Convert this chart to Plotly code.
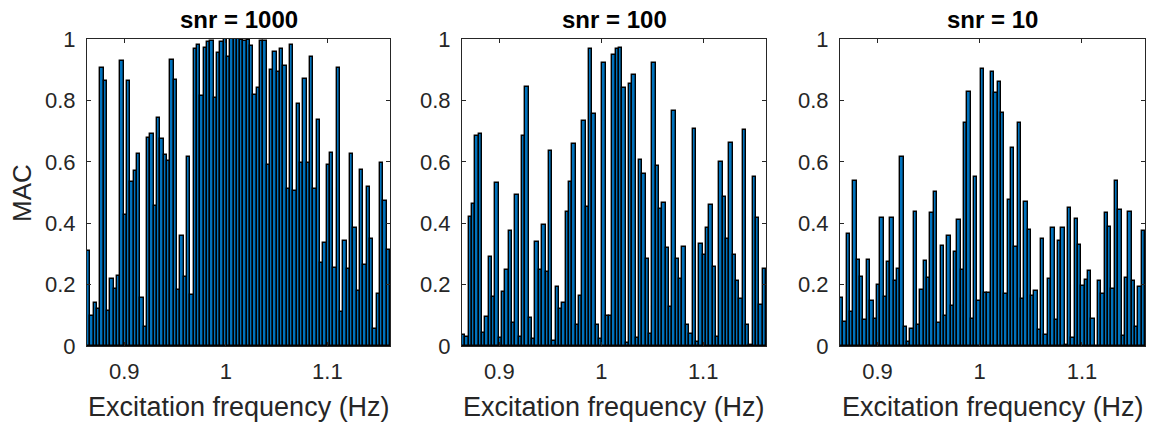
import numpy as np
import plotly.graph_objects as go
from plotly.subplots import make_subplots

# Excitation frequencies (Hz): 91 bars from 0.865 to 1.16
freq_start = 0.865
freq_end = 1.16
n_bars = 91
freqs = list(np.linspace(freq_start, freq_end, n_bars))

titles = ["snr = 1000", "snr = 100", "snr = 10"]
x_label = "Excitation frequency (Hz)"
y_label = "MAC"

mac_snr1000 = [0.31, 0.098, 0.139, 0.12, 0.905, 0.864, 0.115, 0.217, 0.185, 0.229,
               0.929, 0.426, 0.862, 0.535, 0.570, 0.627, 0.157, 0.062, 0.676, 0.689,
               0.457, 0.743, 0.674, 0.623, 0.604, 0.933, 0.867, 0.183, 0.357, 0.226,
               0.617, 0.166, 0.968, 0.98, 0.813, 0.97, 0.99, 0.995, 0.808, 0.954,
               0.99, 1.0, 0.943, 1.0, 1.0, 1.0, 0.998, 0.995, 0.998, 0.978,
               0.816, 0.842, 0.993, 0.993, 0.59, 0.898, 0.958, 0.893, 0.967, 0.911,
               0.511, 0.98, 0.505, 0.789, 0.596, 0.87, 0.596, 0.941, 0.511, 0.737,
               0.27, 0.337, 0.588, 0.628, 0.253, 0.905, 0.112, 0.341, 0.251, 0.625,
               0.385, 0.178, 0.573, 0.263, 0.517, 0.349, 0.055, 0.171, 0.596, 0.471,
               0.313]

mac_snr100 = [0.036, 0.028, 0.42, 0.462, 0.685, 0.691, 0.041, 0.093, 0.291, 0.158,
              0.53, 0.026, 0.177, 0.248, 0.374, 0.076, 0.492, 0.028, 0.685, 0.843,
              0.09, 0.022, 0.339, 0.248, 0.393, 0.241, 0.634, 0.015, 0.193, 0.12,
              0.139, 0.436, 0.535, 0.658, 0.067, 0.163, 0.732, 0.452, 0.968, 0.755,
              0.07, 0.024, 0.922, 0.099, 0.099, 0.949, 0.967, 0.971, 0.841, 0.009,
              0.853, 0.883, 0.026, 0.605, 0.56, 0.283, 0.039, 0.921, 0.586, 0.445,
              0.466, 0.318, 0.126, 0.764, 0.283, 0.217, 0.321, 0.067, 0.039, 0.708,
              0.014, 0.332, 0.298, 0.383, 0.459, 0.257, 0.028, 0.598, 0.485, 0.348,
              0.662, 0.297, 0.211, 0.152, 0.704, 0.067, 0.003, 0.552, 0.416, 0.132,
              0.252]

mac_snr10 = [0.155, 0.078, 0.366, 0.11, 0.536, 0.28, 0.226, 0.085, 0.28, 0.146,
             0.087, 0.199, 0.418, 0.159, 0.275, 0.416, 0.211, 0.25, 0.616, 0.061,
             0.012, 0.054, 0.437, 0.067, 0.184, 0.277, 0.221, 0.432, 0.502, 0.074,
             0.325, 0.098, 0.357, 0.13, 0.305, 0.412, 0.248, 0.726, 0.828, 0.087,
             0.552, 0.147, 0.903, 0.174, 0.174, 0.893, 0.824, 0.86, 0.758, 0.171,
             0.477, 0.646, 0.321, 0.726, 0.153, 0.468, 0.378, 0.162, 0.18, 0.051,
             0.348, 0.036, 0.217, 0.383, 0.085, 0.341, 0.383, 0.003, 0.449, 0.025,
             0.415, 0.329, 0.197, 0.214, 0.245, 0.087, 0.0, 0.212, 0.17, 0.433,
             0.387, 0.186, 0.539, 0.442, 0.032, 0.221, 0.438, 0.211, 0.062, 0.191,
             0.374]

series = [mac_snr1000, mac_snr100, mac_snr10]

x_tickvals = [0.9, 1.0, 1.1]
x_ticktext = ["0.9", "1", "1.1"]
y_tickvals = [0, 0.2, 0.4, 0.6, 0.8, 1.0]
y_ticktext = ["0", "0.2", "0.4", "0.6", "0.8", "1"]

W, H = 1150, 424
panels_px = [(87, 390), (462, 766), (840, 1145)]
top_px, bot_px = 39, 346

fig = make_subplots(rows=1, cols=3)
step = (freq_end - freq_start) / (n_bars - 1)
xr = [freq_start - step / 2, freq_end + step / 2]

FONT = "Liberation Sans, Arial, sans-serif"
INK = "#262626"

for i, vals in enumerate(series):
    fig.add_trace(go.Bar(x=freqs, y=vals, width=step,
                         marker=dict(color="#0072BD", line=dict(color="black", width=1.4)),
                         showlegend=False, hoverinfo="skip"), row=1, col=i + 1)
    ax = "" if i == 0 else str(i + 1)
    x0, x1 = panels_px[i]
    fig.layout["xaxis" + ax].update(
        domain=[x0 / W, x1 / W], range=xr, tickvals=x_tickvals, ticktext=x_ticktext,
        ticks="inside", ticklen=4, tickcolor=INK, showline=True, linecolor=INK,
        linewidth=1, mirror="ticks", showgrid=False, zeroline=False, automargin=False,
        ticklabelstandoff=6, tickfont=dict(family=FONT, size=22, color=INK))
    fig.layout["yaxis" + ax].update(
        domain=[1 - bot_px / H, 1 - top_px / H], range=[0, 1],
        tickvals=y_tickvals, ticktext=y_ticktext, ticks="inside", ticklen=4,
        tickcolor=INK, showline=True, linecolor=INK, linewidth=1,
        mirror="ticks", showgrid=False, zeroline=False, automargin=False,
        ticklabelstandoff=6, tickfont=dict(family=FONT, size=22, color=INK))
    fig.add_annotation(text="<b>" + titles[i] + "</b>", x=(x0 + x1) / 2 / W,
                       y=1 - 20 / H, xanchor="center", yanchor="middle",
                       xref="paper", yref="paper", showarrow=False,
                       font=dict(family=FONT, size=24, color="black"))
    fig.add_annotation(text=x_label, x=(x0 + x1) / 2 / W,
                       y=1 - 407 / H, xanchor="center", yanchor="middle",
                       xref="paper", yref="paper", showarrow=False,
                       font=dict(family=FONT, size=27, color=INK))

fig.add_annotation(text=y_label, x=22 / W, y=1 - 193 / H, textangle=-90,
                   xanchor="center", yanchor="middle", xref="paper", yref="paper",
                   showarrow=False, font=dict(family=FONT, size=26, color=INK))

fig.update_layout(width=W, height=H, margin=dict(l=0, r=0, t=0, b=0, autoexpand=False),
                  plot_bgcolor="white", paper_bgcolor="white", bargap=0)

fig.write_html("out.html", config={"displayModeBar": False},
               post_script="document.body.style.margin='0';document.body.style.overflow='hidden';")
